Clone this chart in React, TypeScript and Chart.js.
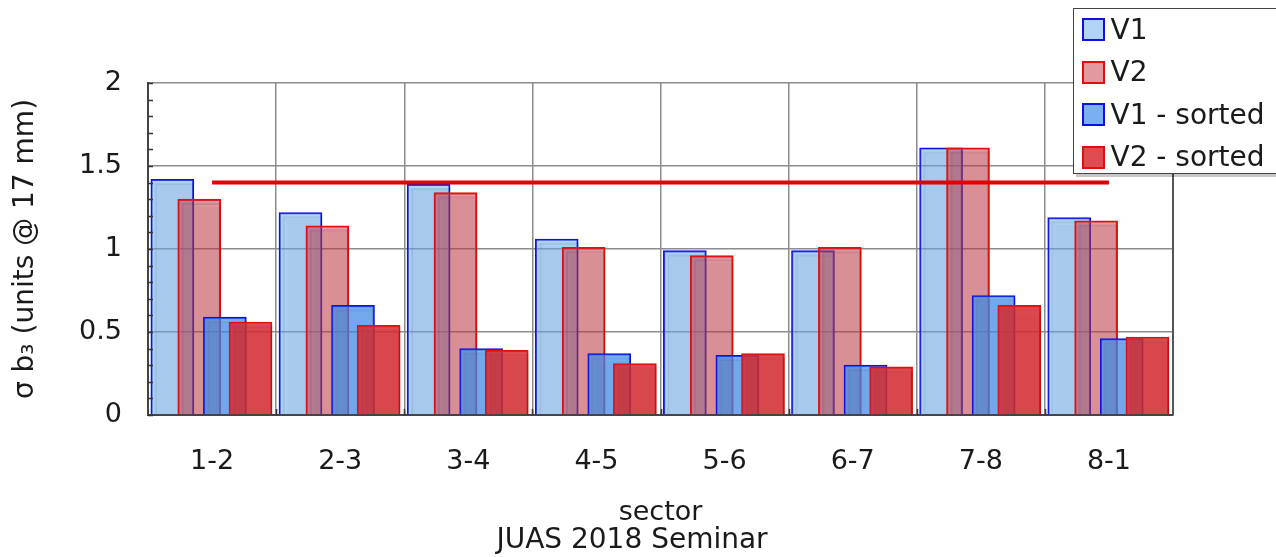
import { useEffect, useRef } from 'react';
import { Chart, registerables } from 'chart.js';

Chart.register(...registerables);

const SECTORS = ['1-2', '2-3', '3-4', '4-5', '5-6', '6-7', '7-8', '8-1'];
const SERIES_LABELS = ['V1', 'V2', 'V1 - sorted', 'V2 - sorted'];
const V1 = [1.42, 1.22, 1.39, 1.06, 0.99, 0.99, 1.61, 1.19];
const V2 = [1.30, 1.14, 1.34, 1.01, 0.96, 1.01, 1.61, 1.17];
const V1_SORTED = [0.59, 0.66, 0.40, 0.37, 0.36, 0.30, 0.72, 0.46];
const V2_SORTED = [0.56, 0.54, 0.39, 0.31, 0.37, 0.29, 0.66, 0.47];
const REFERENCE_LEVEL = [1.4, 1.4, 1.4, 1.4, 1.4, 1.4, 1.4, 1.4];
const Y_MIN = 0;
const Y_MAX = 2;
const Y_STEP = 0.5;

const SERIES_VALUES = [V1, V2, V1_SORTED, V2_SORTED];
const SERIES_SHIFT = [-0.31, -0.1, 0.1, 0.3];
const SERIES_FILL = [
  'rgba(112,174,238,0.55)',
  'rgba(200,62,72,0.52)',
  'rgba(62,142,238,0.7)',
  'rgba(215,45,51,0.85)',
];
const SERIES_BORDER = ['#1010e0', '#e01010', '#1010e0', '#e01010'];

const FONT = 'DejaVu Sans, Verdana, sans-serif';
const TEXT = '#1a1a1a';

const shadowPlugin = {
  id: 'barShadow',
  beforeDatasetDraw(chart: any, args: any) {
    const ds = chart.data.datasets[args.index];
    if (ds.type === 'line') return;
    const ctx = chart.ctx;
    ctx.save();
    ctx.shadowColor = 'rgba(0,0,0,0.16)';
    ctx.shadowOffsetX = 4;
    ctx.shadowOffsetY = 4;
    ctx.shadowBlur = 1;
  },
  afterDatasetDraw(chart: any, args: any) {
    const ds = chart.data.datasets[args.index];
    if (ds.type === 'line') return;
    chart.ctx.restore();
  },
};

const tickMarksPlugin = {
  id: 'tickMarks',
  afterDatasetsDraw(chart: any) {
    const { ctx, chartArea, scales } = chart;
    const y = scales.y;
    const x = scales.x;
    ctx.save();
    ctx.strokeStyle = '#333';
    ctx.lineWidth = 1.5;
    ctx.beginPath();
    for (let k = 0; k <= 20; k++) {
      const py = Math.round(y.getPixelForValue(Y_MIN + k * 0.1)) + 0.5;
      ctx.moveTo(chartArea.left, py);
      ctx.lineTo(chartArea.left + 5, py);
    }
    const w = (chartArea.right - chartArea.left) / SECTORS.length;
    for (let i = 1; i < SECTORS.length; i++) {
      const px = Math.round(x.getPixelForValue(i) - w / 2) + 0.5;
      ctx.moveTo(px, chartArea.bottom);
      ctx.lineTo(px, chartArea.bottom - 6);
    }
    ctx.stroke();
    ctx.strokeStyle = '#555';
    ctx.lineWidth = 2;
    ctx.beginPath();
    ctx.moveTo(chartArea.right, chartArea.top);
    ctx.lineTo(chartArea.right, chartArea.bottom);
    ctx.stroke();
    ctx.restore();
  },
};

export default function App() {
  const ref = useRef<HTMLCanvasElement>(null);

  useEffect(() => {
    document.body.style.margin = '0';
    const barSets = SERIES_VALUES.map((vals, k) => ({
      type: 'bar' as const,
      label: SERIES_LABELS[k],
      data: vals.map((v, i) => ({ x: i + 1 + SERIES_SHIFT[k], y: v })),
      xAxisID: 'xl',
      yAxisID: 'y',
      backgroundColor: SERIES_FILL[k],
      borderColor: SERIES_BORDER[k],
      borderWidth: 1.5,
      borderSkipped: 'bottom' as const,
      barThickness: 43,
      grouped: false,
      order: 5 - k,
    }));
    const chart = new Chart(ref.current as HTMLCanvasElement, {
      type: 'bar',
      data: {
        labels: SECTORS,
        datasets: [
          ...barSets,
          {
            type: 'line' as const,
            label: 'reference',
            data: REFERENCE_LEVEL,
            xAxisID: 'x',
            yAxisID: 'y',
            borderColor: '#e00000',
            borderWidth: 4,
            pointRadius: 0,
            fill: false,
            order: 0,
          } as any,
        ],
      },
      options: {
        responsive: false,
        animation: false,
        layout: { padding: { top: 83, right: 103, left: 0, bottom: 0 } },
        plugins: {
          legend: { display: false },
          tooltip: { enabled: false },
          title: { display: false },
        },
        scales: {
          x: {
            type: 'category',
            offset: true,
            grid: { offset: true, color: '#8c8c8c', lineWidth: 1.5, drawTicks: false },
            border: { display: true, color: '#444', width: 2 },
            ticks: { padding: 31, color: TEXT, font: { family: FONT, size: 27 } },
            title: {
              display: true,
              text: 'sector',
              color: TEXT,
              font: { family: FONT, size: 27 },
              padding: { top: 0, bottom: 28 },
            },
            afterFit: (s: any) => { s.height = 142; },
          },
          xl: {
            type: 'linear',
            display: false,
            offset: false,
            min: 0.5,
            max: 8.5,
          },
          y: {
            type: 'linear',
            min: Y_MIN,
            max: Y_MAX,
            grid: { color: '#8c8c8c', lineWidth: 1.5, drawTicks: false },
            border: { display: true, color: '#444', width: 2 },
            ticks: {
              stepSize: Y_STEP,
              padding: 26,
              color: TEXT,
              font: { family: FONT, size: 27 },
              callback: (v: any) => String(Number(v)),
            },
            title: {
              display: true,
              text: 'σ b₃ (units @ 17 mm)',
              color: TEXT,
              font: { family: FONT, size: 28 },
              padding: { top: 9, bottom: 0 },
            },
            afterFit: (s: any) => { s.width = 148; },
          },
        },
      } as any,
      plugins: [shadowPlugin, tickMarksPlugin],
    });
    return () => chart.destroy();
  }, []);

  return (
    <div style={{ position: 'relative', width: 1276, height: 557, overflow: 'hidden', fontFamily: FONT, color: TEXT }}>
      <canvas ref={ref} width={1276} height={557} style={{ display: 'block' }} />
      <div
        style={{
          position: 'absolute',
          left: 1073,
          top: 8,
          width: 240,
          height: 166,
          boxSizing: 'border-box',
          border: '1.5px solid #444',
          background: '#fff',
          boxShadow: '3px 3px 0 rgba(0,0,0,0.22)',
        }}
      >
        {SERIES_LABELS.map((label, k) => (
          <div
            key={label}
            style={{ position: 'absolute', left: 7.5, top: 8.5 + k * 42.5, height: 24, display: 'flex', alignItems: 'center', whiteSpace: 'nowrap' }}
          >
            <span
              style={{
                display: 'inline-block',
                width: 19,
                height: 19,
                background: SERIES_FILL[k],
                border: `2px solid ${SERIES_BORDER[k]}`,
              }}
            />
            <span style={{ marginLeft: 6, fontSize: 28, lineHeight: '24px' }}>{label}</span>
          </div>
        ))}
      </div>
      <div
        style={{
          position: 'absolute',
          left: 632,
          top: 525,
          transform: 'translateX(-50%)',
          fontSize: 28,
          lineHeight: 1,
          whiteSpace: 'nowrap',
        }}
      >
        JUAS 2018 Seminar
      </div>
    </div>
  );
}
